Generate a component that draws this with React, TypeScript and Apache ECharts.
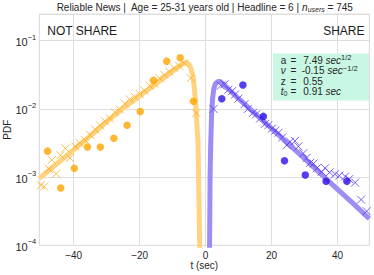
import React, { useEffect, useRef } from 'react';
import * as echarts from 'echarts';

// ---- data ----
const notShareCircleT = [-47.9, -43.9, -39.8, -35.8, -31.9, -27.8, -23.8, -19.8, -15.8, -11.8, -7.7, -3.7];
const notShareCirclePdf = [0.0024, 0.000692, 0.00135, 0.00275, 0.00275, 0.00372, 0.00575, 0.00912, 0.0263, 0.0501, 0.0562, 0.0129];

const notShareCrossT = [-49.9, -48.9, -47.5, -46.6, -45.3, -44.0, -42.5, -41.1, -39.5, -38.2, -36.5, -35.0, -33.5, -32.0, -30.5, -29.0, -27.5, -26.0, -24.5, -23.0, -21.5, -20.0, -18.5, -17.0, -15.5, -14.0, -12.5, -11.0, -9.5, -8.0, -6.5, -4.5, -2.8];
const notShareCrossPdf = [0.000759, 0.000724, 0.00132, 0.00178, 0.00112, 0.00209, 0.00263, 0.00191, 0.00282, 0.00316, 0.00347, 0.00417, 0.00501, 0.00575, 0.00661, 0.00724, 0.00891, 0.00977, 0.012, 0.0138, 0.0151, 0.0166, 0.0186, 0.0219, 0.0234, 0.0282, 0.0316, 0.0355, 0.0398, 0.0427, 0.0468, 0.0282, 0.00871];

const notShareFitT = [-50.4, -45, -40, -35, -30, -25, -20, -15, -10, -7, -5.8, -5, -4.5, -3.8, -3.1, -2.6, -2.3, -2.2, -2.0, -1.8, -1.6];
const notShareFitPdf = [0.000955, 0.00158, 0.00251, 0.00398, 0.00646, 0.0102, 0.0155, 0.0234, 0.0355, 0.0457, 0.0479, 0.0447, 0.0398, 0.0302, 0.0138, 0.0055, 0.00316, 0.00158, 0.000398, 0.0001, 0.0000251];

const shareCircleT = [4.9, 11.3, 17.5, 23.9, 30.2, 36.5, 42.8];
const shareCirclePdf = [0.0141, 0.0224, 0.00776, 0.00174, 0.00107, 0.000871, 0.000871];

const shareCrossT = [2.4, 4.6, 5.7, 6.9, 8.0, 8.9, 9.9, 11.8, 12.8, 14.3, 15.3, 16.5, 18.0, 19.0, 20.1, 21.1, 22.1, 23.2, 24.6, 25.6, 27.1, 28.1, 29.6, 30.6, 31.7, 32.7, 33.7, 35.2, 36.2, 37.6, 39.2, 40.5, 42.3, 43.5, 45.3, 47.1, 48.8];
const shareCrossPdf = [0.01, 0.0219, 0.0229, 0.0191, 0.0182, 0.0162, 0.0141, 0.0117, 0.01, 0.00871, 0.00832, 0.00724, 0.00603, 0.00575, 0.00513, 0.00479, 0.00447, 0.0038, 0.00295, 0.00331, 0.00339, 0.00282, 0.00224, 0.00191, 0.00162, 0.00158, 0.00135, 0.0012, 0.00135, 0.00117, 0.0011, 0.00105, 0.00102, 0.000933, 0.000832, 0.000468, 0.000316];

const shareFitT = [1.05, 1.2, 1.35, 1.55, 1.8, 2.1, 2.5, 3.0, 3.7, 4.5, 5.5, 6.5, 10, 15, 20, 25, 30, 35, 40, 45, 49.6];
const shareFitPdf = [0.0000251, 0.0001, 0.001, 0.00316, 0.00794, 0.0141, 0.02, 0.0234, 0.0251, 0.0251, 0.0229, 0.0204, 0.0141, 0.00851, 0.00513, 0.00309, 0.00186, 0.0011, 0.000661, 0.000398, 0.000245];

const xTickValues = [-40, -20, 0, 20, 40];
const yTickExponents = [-4, -3, -2, -1];

const paramLabels = ['a', 'ν', 'z', 't0'];
const paramValues = ['7.49', '-0.15', '0.55', '0.91'];
const paramUnits = ['sec', 'sec', '', 'sec'];
const paramUnitPowers = ['1/2', '−1/2', '', ''];

const FONT = 'Liberation Sans, Arial, Helvetica, sans-serif';
const TEXT = '#262626';
const GRID = '#dedede';

const pairs = (xs: number[], ys: number[]) => xs.map((x, i) => [x, ys[i]]);
const CROSS = 'path://M0,0L10,10M10,0L0,10';

export default function App() {
  const ref = useRef<HTMLDivElement>(null);
  useEffect(() => {
    if (!ref.current) return;
    const chart = echarts.init(ref.current, undefined, { renderer: 'svg' });

    const lineY = [60, 70.5, 81, 91.5];
    const graphic: any[] = [
      {
        type: 'text', x: 204.6, y: 7.5, z: 10,
        style: {
          text: 'Reliable News |  Age = 25-31 years old | Headline = 6 | {i|n}{sub|users} = 745',
          fontSize: 10, fontFamily: FONT, fill: TEXT, align: 'center', verticalAlign: 'middle',
          rich: {
            i: { fontSize: 10, fontStyle: 'italic', fontFamily: FONT, fill: TEXT },
            sub: { fontSize: 7, fontStyle: 'italic', fontFamily: FONT, fill: TEXT, padding: [4, 0, 0, 0] },
          },
        },
      },
      { type: 'text', x: 47.3, y: 30.7, z: 10, style: { text: 'NOT SHARE', fontSize: 12, fontFamily: FONT, fill: '#1a1a1a', align: 'left', verticalAlign: 'middle' } },
      { type: 'text', x: 364.5, y: 30.7, z: 10, style: { text: 'SHARE', fontSize: 12, fontFamily: FONT, fill: '#1a1a1a', align: 'right', verticalAlign: 'middle' } },
      { type: 'rect', shape: { x: 273, y: 53.5, width: 96, height: 47 }, z: 10, style: { fill: '#c8f7e3' } },
    ];
    paramLabels.forEach((lab, i) => {
      const y = lineY[i];
      const labelText = lab === 't0' ? '{it|t}{sub|0}' : lab === 'ν' ? '{it|ν}' : lab;
      graphic.push({
        type: 'text', x: 280.7, y, z: 11,
        style: {
          text: labelText, fontSize: 10, fontFamily: FONT, fill: TEXT, align: 'left', verticalAlign: 'middle',
          rich: {
            it: { fontSize: 10, fontStyle: 'italic', fontFamily: FONT, fill: TEXT },
            sub: { fontSize: 7, fontFamily: FONT, fill: TEXT, padding: [4, 0, 0, 0] },
          },
        },
      });
      graphic.push({
        type: 'text', x: 290.5, y, z: 11,
        style: { text: '=', fontSize: 10, fontFamily: FONT, fill: TEXT, align: 'left', verticalAlign: 'middle' },
      });
      let valText = paramValues[i];
      if (paramUnits[i]) valText += ' {it|' + paramUnits[i] + '}';
      if (paramUnitPowers[i]) valText += '{sup|' + paramUnitPowers[i] + '}';
      graphic.push({
        type: 'text', x: paramValues[i].startsWith('-') ? 301.7 : 303.3, y, z: 11,
        style: {
          text: valText, fontSize: 10, fontFamily: FONT, fill: TEXT, align: 'left', verticalAlign: 'middle',
          rich: {
            it: { fontSize: 10, fontStyle: 'italic', fontFamily: FONT, fill: TEXT },
            sup: { fontSize: 7.5, fontFamily: FONT, fill: TEXT, padding: [0, 0, 5, 0] },
          },
        },
      });
    });

    const option: any = {
      animation: false,
      backgroundColor: '#ffffff',
      grid: { left: 39.3, right: 4.7, top: 14, bottom: 29.7, show: true, borderColor: GRID, borderWidth: 1, backgroundColor: 'transparent', containLabel: false, outerBoundsMode: 'none' },
      xAxis: {
        type: 'value', min: -50.4, max: 49.6, splitNumber: 5,
        axisLine: { show: false }, axisTick: { show: false },
        splitLine: { show: true, lineStyle: { color: GRID, width: 1 } },
        axisLabel: {
          show: true, fontSize: 10, fontFamily: FONT, color: TEXT, margin: 5,
          showMinLabel: false, showMaxLabel: false,
          formatter: (v: number) => (xTickValues.some((t) => Math.abs(t - v) < 1e-6) ? (v < 0 ? '−' + -v : String(v)) : ''),
        },
        name: 't (sec)', nameLocation: 'middle', nameGap: 15, nameMoveOverlap: false,
        nameTextStyle: { fontSize: 10, fontFamily: FONT, color: TEXT },
      },
      yAxis: {
        type: 'log', logBase: 10, min: 0.0001, max: 0.246,
        axisLine: { show: false }, axisTick: { show: false }, minorTick: { show: false },
        splitLine: { show: true, lineStyle: { color: GRID, width: 1 } },
        axisLabel: {
          show: true, margin: 3, showMaxLabel: false,
          formatter: (v: number) => {
            const e = Math.log10(v);
            const r = Math.round(e);
            if (Math.abs(e - r) > 1e-6 || !yTickExponents.includes(r)) return '';
            return '{b|10}{s|−' + -r + '}';
          },
          rich: {
            b: { fontSize: 11, fontFamily: FONT, color: TEXT, padding: [3, 0, 0, 0] },
            s: { fontSize: 7.5, fontFamily: FONT, color: TEXT, padding: [0, 0, 7, 0] },
          },
        },
        name: 'PDF', nameLocation: 'middle', nameGap: 27, nameMoveOverlap: false,
        nameTextStyle: { fontSize: 10, fontFamily: FONT, color: TEXT },
      },
      series: [
        {
          type: 'line', data: pairs(notShareFitT, notShareFitPdf), showSymbol: false, symbol: 'none', clip: true, z: 2,
          lineStyle: { color: '#ffd380', width: 5 },
        },
        {
          type: 'line', data: pairs(shareFitT, shareFitPdf), showSymbol: false, symbol: 'none', clip: true, z: 2,
          lineStyle: { color: '#9e8df6', width: 5 },
        },
        {
          type: 'scatter', data: pairs(notShareCrossT, notShareCrossPdf), symbol: CROSS, symbolSize: 8, z: 3,
          itemStyle: { color: 'rgba(0,0,0,0)', borderColor: '#ffad1f', borderWidth: 1 },
        },
        {
          type: 'scatter', data: pairs(shareCrossT, shareCrossPdf), symbol: CROSS, symbolSize: 8, z: 3,
          itemStyle: { color: 'rgba(0,0,0,0)', borderColor: '#5a38f2', borderWidth: 1 },
        },
        {
          type: 'scatter', data: pairs(notShareCircleT, notShareCirclePdf), symbol: 'circle', symbolSize: 7.5, z: 4,
          itemStyle: { color: '#ffa500' },
        },
        {
          type: 'scatter', data: pairs(shareCircleT, shareCirclePdf), symbol: 'circle', symbolSize: 7.5, z: 4,
          itemStyle: { color: '#2a0ee8' },
        },
      ],
      graphic,
    };
    chart.setOption(option);
    return () => chart.dispose();
  }, []);
  return <div ref={ref} style={{ position: 'fixed', left: 0, top: 0, width: 374, height: 275 }} />;
}
